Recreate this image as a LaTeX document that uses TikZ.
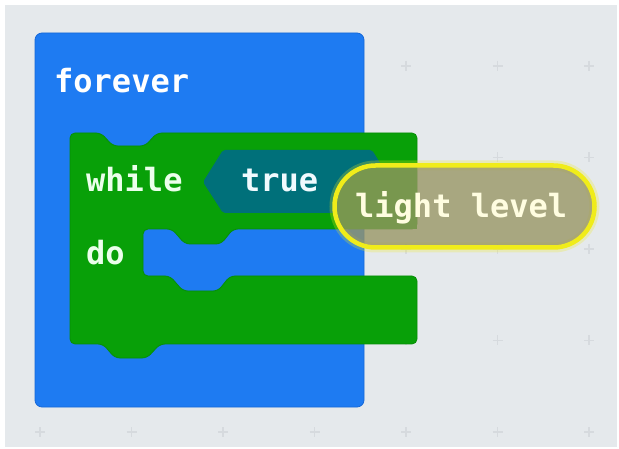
\documentclass[tikz,border=0pt]{standalone}
\usepackage{fontspec}
\newfontfamily\blkfont{DejaVu Sans Mono}
\definecolor{bgcol}{HTML}{E5E9EC}
\definecolor{gridcol}{HTML}{D6DADE}
\definecolor{bluecol}{HTML}{1E7BF2}
\definecolor{blueedge}{HTML}{1668D8}
\definecolor{greencol}{HTML}{08A008}
\definecolor{greenedge}{HTML}{078E07}
\definecolor{tealcol}{HTML}{00707A}
\definecolor{pillcol}{HTML}{989562}
\definecolor{yellowcol}{HTML}{F0EC1A}
\tikzset{
  gridmark/.style={draw=gridcol, line width=1.3pt},
  blocktext/.style={anchor=base west, inner sep=0pt, font=\blkfont\bfseries\fontsize{32}{36}\selectfont},
  pillshape/.style={rounded corners=41pt},
}
\begin{document}
\begin{tikzpicture}[x=1pt, y=-1pt]
% canvas
\useasboundingbox (0,0) rectangle (619,449);
\fill[white] (0,0) rectangle (619,449);
\fill[bgcol] (5,5) rectangle (617,447);
% grid marks
\foreach \gx in {40,131.5,223,314.5,406,497.5,589}{
  \foreach \gy in {66,157.5,249,340.5,432}{
    \draw[gridmark] (\gx-5,\gy) -- (\gx+5,\gy) (\gx,\gy-5) -- (\gx,\gy+5);
  }
}
% forever block
\fill[bluecol, draw=blueedge, line width=0.8pt, rounded corners=7pt] (35,33) rectangle (364,407);
\node[blocktext, text=white] (forever) at (54,93) {forever};
% while block
\fill[greencol, draw=greenedge, line width=0.8pt, rounded corners=5pt]
  (70,133) -- (101,133) -- (113,146) -- (145,146) -- (157,133) -- (417,133)
  -- (417,229) -- (233,229) -- (221,244) -- (185,244) -- (172,229) -- (143,229)
  -- (143,276) -- (170,276) -- (183,291) -- (218,291) -- (230,276) -- (417,276)
  -- (417,344) -- (160,344) -- (147,358) -- (115,358) -- (103,344) -- (70,344) -- cycle;
\node[blocktext, text=green!8!white] (while) at (86,192) {while};
\node[blocktext, text=green!8!white] (do) at (86,265) {do};
% true block
\fill[tealcol, rounded corners=2pt] (203,182) -- (223,150) -- (372,150) -- (392,182) -- (372,213) -- (223,213) -- cycle;
\node[blocktext, text=cyan!6!white] (true) at (241,192) {true};
% light level block (dragged, highlighted)
\draw[yellowcol, line width=10pt, opacity=0.25, pillshape] (334.5,165.5) rectangle (594.5,247.5);
\begin{scope}
  \clip[pillshape] (334.5,165.5) rectangle (594.5,247.5);
  \fill[greencol] (330,160) rectangle (417,229);
\end{scope}
\fill[pillcol, fill opacity=0.78, pillshape] (334.5,165.5) rectangle (594.5,247.5);
\draw[yellowcol, line width=4.5pt, pillshape] (334.5,165.5) rectangle (594.5,247.5);
\node[blocktext, text=yellow!12!white] (light) at (355,218) {light level};
\end{tikzpicture}
\end{document}
